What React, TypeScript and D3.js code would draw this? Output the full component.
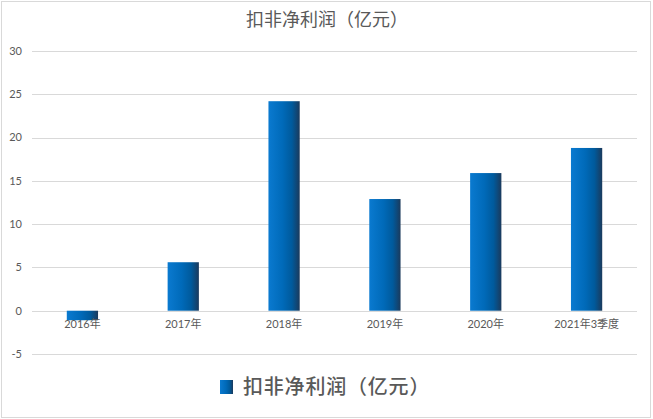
import React, { useRef, useEffect } from 'react'
import * as d3 from 'd3'

const categories = ['2016年', '2017年', '2018年', '2019年', '2020年', '2021年3季度']
const values = [-1.1, 5.6, 24.2, 12.9, 15.9, 18.8]
const yTicks = [-5, 0, 5, 10, 15, 20, 25, 30]
const title = '扣非净利润（亿元）'

const W = 653
const H = 419
const FONT = "Lato, 'Noto Sans CJK SC', sans-serif"

const App: React.FC = () => {
    const svgRef = useRef<SVGSVGElement>(null)

    useEffect(() => {
        const svg = d3.select(svgRef.current).attr('width', W).attr('height', H)
        svg.selectAll('*').remove()

        // 渐变
        const defs = svg.append('defs')
        const grad = defs
            .append('linearGradient')
            .attr('id', 'barGrad')
            .attr('x1', '0%')
            .attr('x2', '100%')
            .attr('y1', '0%')
            .attr('y2', '0%')
        const stops = [
            ['0%', '#0a7ad0'],
            ['45%', '#006ab9'],
            ['75%', '#005a9c'],
            ['100%', '#1b3a5c'],
        ]
        stops.forEach(([o, c]) => grad.append('stop').attr('offset', o).attr('stop-color', c))

        // 背景和边框
        svg.append('rect')
            .attr('x', 1.5)
            .attr('y', 1.5)
            .attr('width', W - 4)
            .attr('height', H - 3)
            .attr('fill', '#fff')
            .attr('stroke', '#d9d9d9')

        const left = 32
        const right = 637
        const x = d3.scaleBand<string>().domain(categories).range([left, right])
        const y = d3.scaleLinear().domain([-5, 30]).range([354, 51])

        // 网格线
        svg.append('g')
            .selectAll('line')
            .data(yTicks)
            .enter()
            .append('line')
            .attr('x1', left)
            .attr('x2', right)
            .attr('y1', (d) => Math.round(y(d)) + 0.5)
            .attr('y2', (d) => Math.round(y(d)) + 0.5)
            .attr('stroke', '#d9d9d9')
            .attr('stroke-width', 1)

        // Y轴标签
        svg.append('g')
            .selectAll('text')
            .data(yTicks)
            .enter()
            .append('text')
            .attr('x', 22)
            .attr('y', (d) => y(d))
            .attr('dy', '0.35em')
            .attr('text-anchor', 'end')
            .attr('font-family', FONT)
            .attr('font-size', 11)
            .attr('fill', '#595959')
            .text((d) => d)

        // 柱子
        const bw = x.bandwidth() * 0.31
        svg.append('g')
            .selectAll('rect')
            .data(values)
            .enter()
            .append('rect')
            .attr('x', (d, i) => x(categories[i])! + x.bandwidth() / 2 - bw / 2)
            .attr('y', (d) => y(Math.max(0, d)))
            .attr('width', bw)
            .attr('height', (d) => Math.abs(y(d) - y(0)))
            .attr('fill', 'url(#barGrad)')

        // X轴标签
        svg.append('g')
            .selectAll('text')
            .data(categories)
            .enter()
            .append('text')
            .attr('x', (d) => x(d)! + x.bandwidth() / 2)
            .attr('y', 324)
            .attr('dy', '0.35em')
            .attr('text-anchor', 'middle')
            .attr('font-family', FONT)
            .attr('font-size', 11)
            .attr('fill', '#595959')
            .text((d) => d)

        // 标题
        svg.append('text')
            .attr('x', 327)
            .attr('y', 20)
            .attr('dy', '0.35em')
            .attr('text-anchor', 'middle')
            .attr('font-family', FONT)
            .attr('font-size', 18)
            .attr('fill', '#595959')
            .text(title)

        // 图例
        svg.append('rect')
            .attr('x', 220)
            .attr('y', 380)
            .attr('width', 13)
            .attr('height', 14)
            .attr('fill', 'url(#barGrad)')
        svg.append('text')
            .attr('x', 243)
            .attr('y', 387)
            .attr('dy', '0.35em')
            .attr('font-family', FONT)
            .attr('font-size', 20)
            .attr('font-weight', 500)
            .attr('letter-spacing', 0.8)
            .attr('fill', '#595959')
            .text(title)
    }, [])

    return (
        <div style={{ position: 'absolute', left: 0, top: 0 }}>
            <svg ref={svgRef} style={{ display: 'block' }} />
        </div>
    )
}

export default App
